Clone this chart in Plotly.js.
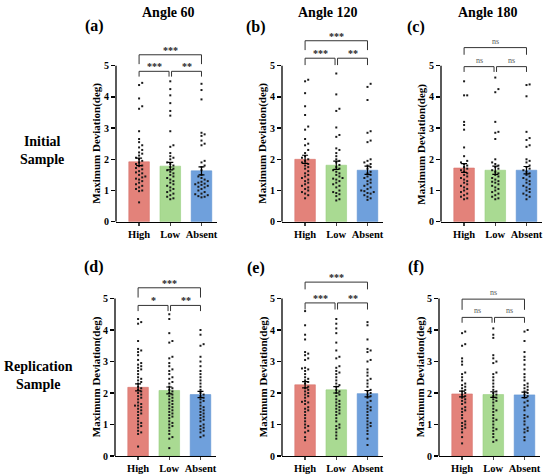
<!DOCTYPE html>
<html><head><meta charset="utf-8">
<script src="https://cdn.plot.ly/plotly-3.0.1.min.js"></script>
<style>html,body{margin:0;padding:0;background:#fff;}#chart{width:550px;height:476px;}
#chart text{font-family:"Liberation Serif","DejaVu Serif",serif !important;}</style>
</head><body><div id="chart"></div>
<script>
// ---------- data ----------
const groups = ['High', 'Low', 'Absent'];
const columnTitles = ['Angle 60', 'Angle 120', 'Angle 180'];
const rowTitles = ['Initial<br>Sample', 'Replication<br>Sample'];
const panelLabels = ['(a)', '(b)', '(c)', '(d)', '(e)', '(f)'];
const yTitle = 'Maximum Deviation(deg)';
const yTicks = [0, 1, 2, 3, 4, 5];

const mean_a = [1.92, 1.78, 1.63]; const sem_a = [0.12, 0.12, 0.13];
const mean_b = [2.00, 1.81, 1.65]; const sem_b = [0.13, 0.13, 0.13];
const mean_c = [1.72, 1.65, 1.65]; const sem_c = [0.14, 0.13, 0.12];
const mean_d = [2.18, 2.08, 1.95]; const sem_d = [0.11, 0.11, 0.10];
const mean_e = [2.26, 2.10, 1.98]; const sem_e = [0.10, 0.10, 0.10];
const mean_f = [1.97, 1.95, 1.94]; const sem_f = [0.09, 0.09, 0.09];

// significance: [High vs Absent, High vs Low, Low vs Absent]
const sig_a = ['***', '***', '**'];
const sig_b = ['***', '***', '**'];
const sig_c = ['ns', 'ns', 'ns'];
const sig_d = ['***', '*', '**'];
const sig_e = ['***', '***', '**'];
const sig_f = ['ns', 'ns', 'ns'];

const pts_a_high = [4.45,4.38,3.95,3.7,3.62,2.9,2.65,2.55,2.45,2.38,2.3,2.22,2.18,2.12,2.05,2.0,1.95,1.9,1.85,1.8,1.78,1.72,1.68,1.62,1.58,1.55,1.5,1.45,1.42,1.38,1.35,1.3,1.25,1.2,1.15,1.1,1.05,1.0,0.98,0.62];
const pts_a_low = [4.5,4.25,4.05,3.8,3.55,3.4,2.9,2.45,2.4,2.2,2.1,2.05,2.0,1.9,1.85,1.8,1.75,1.7,1.65,1.6,1.55,1.5,1.45,1.4,1.35,1.3,1.25,1.2,1.15,1.1,1.05,1.0,0.95,0.9,0.85,0.8,0.75,0.72];
const pts_a_absent = [4.42,4.22,3.92,2.85,2.8,2.75,2.6,2.5,2.45,1.95,1.9,1.8,1.75,1.65,1.5,1.45,1.4,1.35,1.3,1.28,1.25,1.22,1.2,1.18,1.15,1.12,1.1,1.05,1.0,0.95,0.9,0.88,0.85,0.82,0.8,0.78];

const pts_b_high = [4.55,4.5,4.12,3.7,3.42,3.05,2.95,2.65,2.5,2.45,2.3,2.2,2.1,2.05,2.0,1.95,1.9,1.85,1.8,1.75,1.7,1.62,1.55,1.5,1.45,1.4,1.35,1.3,1.25,1.2,1.15,1.1,1.05,1.0,0.95,0.9,0.85,0.75];
const pts_b_low = [4.75,4.08,3.62,3.55,3.02,2.78,2.72,2.35,2.3,2.2,2.1,2.0,1.95,1.9,1.82,1.75,1.7,1.65,1.6,1.55,1.5,1.45,1.4,1.38,1.35,1.3,1.25,1.2,1.15,1.1,1.0,0.95,0.92,0.88,0.82,0.72,0.68];
const pts_b_absent = [4.42,4.32,3.9,2.9,2.85,2.6,2.55,2.0,1.95,1.9,1.85,1.8,1.75,1.7,1.6,1.55,1.5,1.45,1.4,1.35,1.3,1.25,1.2,1.15,1.1,1.05,1.0,0.98,0.95,0.92,0.9,0.85,0.8,0.75,0.7];

const pts_c_high = [4.5,4.05,4.05,3.2,3.1,2.95,2.38,2.1,1.95,1.9,1.85,1.8,1.75,1.7,1.65,1.6,1.55,1.5,1.45,1.4,1.35,1.3,1.25,1.2,1.15,1.1,1.05,1.0,0.95,0.9,0.85,0.8,0.75,0.72];
const pts_c_low = [4.62,4.25,4.15,3.2,2.88,2.85,2.65,2.0,1.9,1.85,1.8,1.75,1.7,1.65,1.6,1.55,1.5,1.45,1.4,1.35,1.3,1.28,1.25,1.2,1.15,1.1,1.05,1.0,0.95,0.9,0.85,0.8,0.75,0.72];
const pts_c_absent = [4.4,4.38,4.02,2.88,2.68,2.62,2.45,2.4,2.0,1.95,1.9,1.8,1.75,1.7,1.65,1.6,1.55,1.5,1.45,1.4,1.35,1.3,1.25,1.2,1.15,1.1,1.05,1.0,0.95,0.9,0.85,0.8,0.72];

const pts_d_high = [4.35,4.25,4.2,3.65,3.4,3.35,3.3,3.2,3.05,2.95,2.9,2.85,2.8,2.75,2.7,2.6,2.5,2.45,2.4,2.35,2.3,2.2,2.15,2.1,2.05,2.0,1.95,1.9,1.85,1.8,1.7,1.65,1.6,1.6,1.55,1.5,1.45,1.4,1.35,1.3,1.2,1.1,1.05,1.0,0.95,0.9,0.8,0.75,0.7,0.3];
const pts_d_low = [4.5,4.35,3.9,3.65,3.6,3.15,3.1,2.95,2.85,2.75,2.7,2.6,2.5,2.45,2.35,2.3,2.2,2.15,2.1,2.05,2.0,1.95,1.9,1.85,1.8,1.75,1.7,1.65,1.6,1.55,1.5,1.45,1.4,1.35,1.3,1.25,1.2,1.1,1.05,1.0,0.95,0.9,0.8,0.7,0.6,0.55,0.25];
const pts_d_absent = [4.0,3.85,3.55,3.5,3.15,3.0,2.85,2.7,2.6,2.5,2.4,2.3,2.2,2.1,2.0,1.95,1.9,1.85,1.8,1.75,1.7,1.6,1.55,1.5,1.45,1.4,1.35,1.3,1.25,1.2,1.15,1.1,1.0,0.95,0.9,0.85,0.8,0.75,0.65,0.6];

const pts_e_high = [4.6,4.15,3.85,3.7,3.3,3.25,3.2,3.1,3.05,2.8,2.78,2.75,2.7,2.6,2.5,2.45,2.4,2.35,2.3,2.2,2.15,2.1,2.05,2.0,1.95,1.9,1.85,1.75,1.72,1.7,1.65,1.55,1.5,1.45,1.4,1.3,1.2,1.1,1.0,0.95,0.9,0.8,0.75,0.6,0.5];
const pts_e_low = [4.35,4.2,4.05,3.9,3.6,3.35,3.15,3.1,2.85,2.8,2.7,2.65,2.6,2.5,2.4,2.3,2.25,2.2,2.1,2.05,2.0,1.95,1.9,1.8,1.75,1.7,1.65,1.6,1.55,1.5,1.45,1.4,1.35,1.3,1.2,1.1,1.0,0.95,0.9,0.85,0.75,0.65,0.55];
const pts_e_absent = [4.25,4.15,3.7,3.4,3.35,3.3,3.05,3.0,2.75,2.65,2.55,2.45,2.4,2.3,2.2,2.1,2.05,2.0,1.95,1.9,1.85,1.75,1.7,1.6,1.55,1.5,1.45,1.4,1.3,1.2,1.1,1.05,1.0,0.95,0.9,0.8,0.7,0.55,0.35];

const pts_f_high = [3.95,3.9,3.55,3.5,3.1,3.0,2.9,2.65,2.6,2.5,2.4,2.3,2.25,2.2,2.15,2.1,2.05,2.0,1.95,1.9,1.85,1.8,1.75,1.7,1.65,1.55,1.5,1.45,1.4,1.3,1.2,1.1,1.05,1.0,0.95,0.9,0.85,0.75,0.6,0.4];
const pts_f_low = [4.05,3.85,3.75,3.2,3.1,3.0,2.95,2.65,2.6,2.5,2.4,2.3,2.2,2.1,2.05,2.0,1.95,1.9,1.85,1.8,1.75,1.7,1.6,1.5,1.45,1.4,1.3,1.2,1.15,1.1,1.0,0.9,0.85,0.8,0.7,0.6,0.5,0.45];
const pts_f_absent = [4.0,3.95,3.65,3.3,3.15,3.05,2.9,2.75,2.6,2.5,2.4,2.3,2.25,2.2,2.15,2.1,2.05,2.0,1.95,1.9,1.85,1.75,1.7,1.6,1.55,1.45,1.3,1.25,1.2,1.1,1.0,0.9,0.85,0.8,0.75,0.6,0.5];

// ---------- assembly ----------
const panels = [
  {mean: mean_a, sem: sem_a, sig: sig_a, pts: [pts_a_high, pts_a_low, pts_a_absent]},
  {mean: mean_b, sem: sem_b, sig: sig_b, pts: [pts_b_high, pts_b_low, pts_b_absent]},
  {mean: mean_c, sem: sem_c, sig: sig_c, pts: [pts_c_high, pts_c_low, pts_c_absent]},
  {mean: mean_d, sem: sem_d, sig: sig_d, pts: [pts_d_high, pts_d_low, pts_d_absent]},
  {mean: mean_e, sem: sem_e, sig: sig_e, pts: [pts_e_high, pts_e_low, pts_e_absent]},
  {mean: mean_f, sem: sem_f, sig: sig_f, pts: [pts_f_high, pts_f_low, pts_f_absent]}
];

// layout geometry (pixels)
const W = 550, H = 476;
const colX = [[116, 282, 441], [115, 282, 439]];      // y-axis line x per row
const rowY0 = [221.7, 456];                             // pixel of y=0
const rowPPU = [31.2, 31.5];                            // pixels per unit
const YMAX = 6.3, XMIN = -0.74, XMAX = 2.5, XPPU = 31.2;
// bracket geometry per panel: [lowY, lowLeg, topY, topLeg]
const brackets = [[4.82,0.17,5.35,0.3],[5.24,0.22,5.8,0.3],[4.97,0.17,5.58,0.23],
                  [4.78,0.18,5.34,0.31],[4.86,0.21,5.52,0.23],[4.4,0.17,4.98,0.34]];
const barColors = ['#E3827A', '#A9DA92', '#6FA0DC'];
const barLines = ['#D9736B', '#98CF80', '#5F93D2'];
const SERIF = '"Liberation Serif", "DejaVu Serif", serif';

function beeswarm(vals, center, sep, yScale) {
  const order = vals.map((v, i) => i).sort((a, b) => vals[a] - vals[b]);
  const placed = [];
  const xs = new Array(vals.length);
  for (const i of order) {
    const y = vals[i] * yScale;
    let k = 0, off = 0;
    while (true) {
      const cand = k === 0 ? 0 : (k % 2 ? 1 : -1) * Math.ceil(k / 2) * sep;
      const ok = placed.every(p => Math.hypot(p[0] - cand, p[1] - y) >= sep);
      if (ok) { off = cand; break; }
      k++;
      if (k > 40) { off = cand; break; }
    }
    placed.push([off, y]);
    xs[i] = center + off;
  }
  return xs;
}

const data = [];
const layout = {
  width: W, height: H, margin: {l: 0, r: 0, t: 0, b: 0},
  paper_bgcolor: '#fff', plot_bgcolor: 'rgba(0,0,0,0)',
  font: {family: SERIF, color: '#000'},
  showlegend: false, hovermode: false,
  annotations: [], shapes: []
};

panels.forEach((p, i) => {
  const row = Math.floor(i / 3), col = i % 3;
  const sfx = i === 0 ? '' : String(i + 1);
  const xr = 'x' + sfx, yr = 'y' + sfx;
  const x0 = colX[row][col];
  const x1 = x0 + (XMAX - XMIN) * XPPU;
  const yBot = rowY0[row], yTop = rowY0[row] - YMAX * rowPPU[row];
  layout['xaxis' + sfx] = {
    domain: [x0 / W, x1 / W], range: [XMIN, XMAX], anchor: yr,
    tickvals: [0, 1, 2], ticktext: groups, ticks: 'outside', ticklen: 2.5, tickwidth: 1.2,
    showline: true, linecolor: '#000', linewidth: 1.3, showgrid: false, zeroline: false,
    tickfont: {family: SERIF, size: 10.5, color: '#000', weight: 'bold'}, fixedrange: true
  };
  layout['yaxis' + sfx] = {
    domain: [1 - yBot / H, 1 - yTop / H], range: [0, YMAX], anchor: xr,
    tickvals: yTicks, ticks: 'outside', ticklen: 4, tickwidth: 1.3, tickcolor: '#000',
    showline: false, showgrid: false, zeroline: false,
    tickfont: {family: SERIF, size: 10, color: '#000', weight: 'bold'}, fixedrange: true
  };
  // bars
  data.push({type: 'bar', x: [0, 1, 2], y: p.mean, width: 0.66, xaxis: xr, yaxis: yr,
    marker: {color: barColors, line: {color: barLines, width: 0.6}}});
  // points
  p.pts.forEach((vals, g) => {
    data.push({type: 'scatter', mode: 'markers', xaxis: xr, yaxis: yr,
      x: beeswarm(vals, g, 0.1, rowPPU[row] / XPPU), y: vals, cliponaxis: false,
      marker: {symbol: 'square', size: 2, color: '#1a1a1a'}});
  });
  // error bars (SEM)
  data.push({type: 'scatter', mode: 'markers', x: [0, 1, 2], y: p.mean, xaxis: xr, yaxis: yr,
    marker: {size: 1, color: 'rgba(0,0,0,0)'},
    error_y: {type: 'data', array: p.sem, visible: true, color: '#000', thickness: 1.2, width: 3}});
  // y-axis line 0..5
  layout.shapes.push({type: 'line', xref: xr + ' domain', yref: yr, x0: 0, x1: 0, y0: 0, y1: 5,
    line: {color: '#000', width: 1.3}});
  // brackets
  const [lowY, lowLeg, topY, topLeg] = brackets[i];
  const bline = {color: '#333', width: 1};
  const path = (a, b, y, leg) => `M ${a},${y - leg} L ${a},${y} L ${b},${y} L ${b},${y - leg}`;
  layout.shapes.push({type: 'path', xref: xr, yref: yr, path: path(0, 2, topY, topLeg), line: bline});
  layout.shapes.push({type: 'path', xref: xr, yref: yr, path: path(0, 0.96, lowY, lowLeg), line: bline});
  layout.shapes.push({type: 'path', xref: xr, yref: yr, path: path(1.04, 2, lowY, lowLeg), line: bline});
  const sigAnn = (txt, x, y) => {
    const ns = txt === 'ns';
    layout.annotations.push({xref: xr, yref: yr, x: x, y: y, text: txt, showarrow: false,
      yanchor: 'bottom', yshift: ns ? 0 : -3,
      font: ns ? {family: SERIF, size: 8, color: '#5a5a5a'} : {family: SERIF, size: 10, color: '#1e1e1e', weight: 'bold'}});
  };
  sigAnn(p.sig[0], 1, topY);
  sigAnn(p.sig[1], 0.48, lowY);
  sigAnn(p.sig[2], 1.52, lowY);
  // y title
  layout.annotations.push({xref: 'paper', yref: yr, x: (x0 - 19) / W, y: 2.5, text: yTitle,
    textangle: -90, showarrow: false, xanchor: 'center', yanchor: 'middle',
    font: {family: SERIF, size: 11, color: '#000', weight: 'bold'}});
});

// panel labels
const panelLabelPos = [[94, 26], [256, 27], [416, 27], [94, 267], [256, 268], [416, 267]];
panelLabels.forEach((t, i) => {
  layout.annotations.push({xref: 'paper', yref: 'paper', x: panelLabelPos[i][0] / W, y: 1 - panelLabelPos[i][1] / H,
    text: t, showarrow: false, xanchor: 'center', yanchor: 'middle',
    font: {family: SERIF, size: 16, color: '#000', weight: 'bold'}});
});
// column titles
const colTitleX = [168, 328, 488];
columnTitles.forEach((t, i) => {
  layout.annotations.push({xref: 'paper', yref: 'paper', x: colTitleX[i] / W, y: 1 - 12.5 / H,
    text: t, showarrow: false, xanchor: 'center', yanchor: 'middle',
    font: {family: SERIF, size: 14, color: '#000', weight: 'bold'}});
});
// row titles
const rowTitlePos = [[42, 150], [38, 375]];
rowTitles.forEach((t, i) => {
  layout.annotations.push({xref: 'paper', yref: 'paper', x: rowTitlePos[i][0] / W, y: 1 - rowTitlePos[i][1] / H,
    text: t, showarrow: false, xanchor: 'center', yanchor: 'middle', align: 'center',
    font: {family: SERIF, size: 14, color: '#000', weight: 'bold'}});
});

Plotly.newPlot('chart', data, layout, {staticPlot: true, displayModeBar: false});
</script></body></html>
